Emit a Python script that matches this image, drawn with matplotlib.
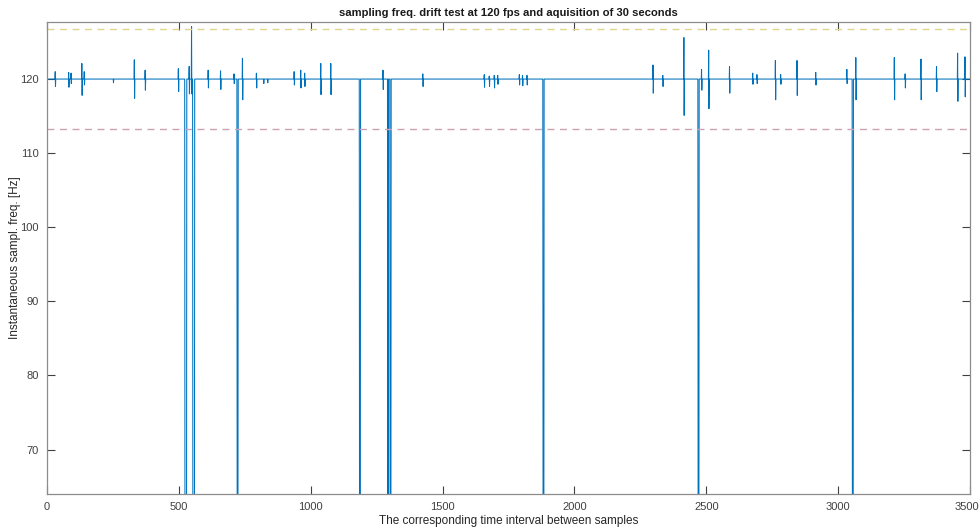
import numpy as np
import matplotlib
matplotlib.use("Agg")
import matplotlib.pyplot as plt
import matplotlib.transforms as mtransforms

plt.rcParams['font.family'] = ['Liberation Sans', 'DejaVu Sans']

# ---- data -------------------------------------------------------------
n_samples = 3500
nominal_hz = 120.0
upper_limit_hz = 126.7
lower_limit_hz = 113.3
dropped_frame_hz = 60.0

# sample index of each timing glitch and the frequency pair it produced
glitch_idx = [30, 81, 90, 131, 140, 250, 330, 371, 497, 538, 547, 610, 657,
              708, 740, 793, 820, 835, 936, 961, 976, 1037, 1075, 1273, 1424,
              1657, 1676, 1695, 1708, 1790, 1802, 1819, 2297, 2334, 2414,
              2481, 2508, 2587, 2675, 2691, 2761, 2781, 2843, 2914, 3032,
              3066, 3212, 3253, 3313, 3372, 3452, 3480]
glitch_high_hz = [121.0, 120.9, 120.8, 122.1, 121.0, 120.0, 122.6, 121.2,
                  121.4, 121.7, 127.1, 121.2, 121.1, 120.7, 122.8, 120.8,
                  120.0, 120.0, 121.0, 121.2, 120.8, 122.1, 122.1, 121.2,
                  120.7, 120.6, 120.4, 120.5, 120.5, 120.6, 120.5, 120.5,
                  121.9, 120.5, 125.6, 121.3, 123.9, 121.7, 120.8, 120.6,
                  122.5, 120.6, 122.5, 120.9, 121.3, 122.9, 122.9, 120.7,
                  122.7, 121.7, 123.5, 123.0]
glitch_low_hz = [119.0, 118.9, 119.4, 117.8, 119.2, 119.5, 117.4, 118.5,
                 118.3, 118.0, 118.0, 118.8, 118.6, 119.4, 117.2, 118.8,
                 119.4, 119.5, 119.2, 118.8, 119.0, 117.9, 117.9, 118.6,
                 119.0, 118.9, 119.0, 118.8, 119.3, 119.2, 119.1, 119.2,
                 118.1, 119.0, 115.1, 118.5, 116.0, 118.1, 119.3, 119.4,
                 117.2, 119.3, 117.8, 119.2, 119.4, 117.2, 117.2, 118.8,
                 117.2, 118.3, 117.0, 117.6]

# dropped frames: first sample index and number of samples at half rate
drop_start = [522, 552, 720, 1184, 1291, 1300, 1880, 2468, 3053]
drop_length = [7, 7, 4, 4, 3, 4, 4, 4, 4]

# ---- series -----------------------------------------------------------
freq = np.full(n_samples, nominal_hz)
for i, hi, lo in zip(glitch_idx, glitch_high_hz, glitch_low_hz):
    freq[i] = hi
    freq[i + 1] = lo
for s, L in zip(drop_start, drop_length):
    freq[s:s + L] = dropped_frame_hz
sample = np.arange(1, n_samples + 1)

# ---- figure -----------------------------------------------------------
fig = plt.figure(figsize=(9.8, 5.29), dpi=100)
ax = fig.add_axes([0.048, 0.0662, 0.9418, 0.8922])

ax.plot(sample, freq, color='#0072BD', lw=0.75)
ax.axhline(upper_limit_hz, color='#ddd68c', lw=1.0, ls=(0, (5, 4)))
ax.axhline(lower_limit_hz, color='#cba3b3', lw=1.0, ls=(0, (5, 4)))

ax.set_xlim(0, 3500)
ax.set_ylim(64, 127.7)
ax.set_xticks(np.arange(0, 3501, 500))
ax.set_yticks(np.arange(70, 121, 10))

ax.tick_params(direction='in', length=6, width=0.8, colors='#404040',
               labelsize=8, top=True, right=True, labeltop=False,
               labelright=False, pad=6)
for sp in ax.spines.values():
    sp.set_color('#8c8c8c')
    sp.set_linewidth(0.9)

# keep the last x tick label inside the canvas
last = ax.get_xticklabels()[-1]
last.set_transform(last.get_transform() +
                   mtransforms.ScaledTranslation(-3 / 100, 0, fig.dpi_scale_trans))

ax.set_title('sampling freq. drift test at 120 fps and aquisition of 30 seconds',
             fontsize=8.1, fontweight='bold', color='#1a1a1a', pad=4)
ax.set_xlabel('The corresponding time interval between samples',
              fontsize=8.5, color='#262626')
ax.xaxis.set_label_coords(0.5, -0.045)
ax.set_ylabel('Instantaneous sampl. freq. [Hz]', fontsize=8.5,
              color='#262626')
ax.yaxis.set_label_coords(-0.028, 0.5)

fig.savefig('out.png', dpi=100, facecolor='white')
